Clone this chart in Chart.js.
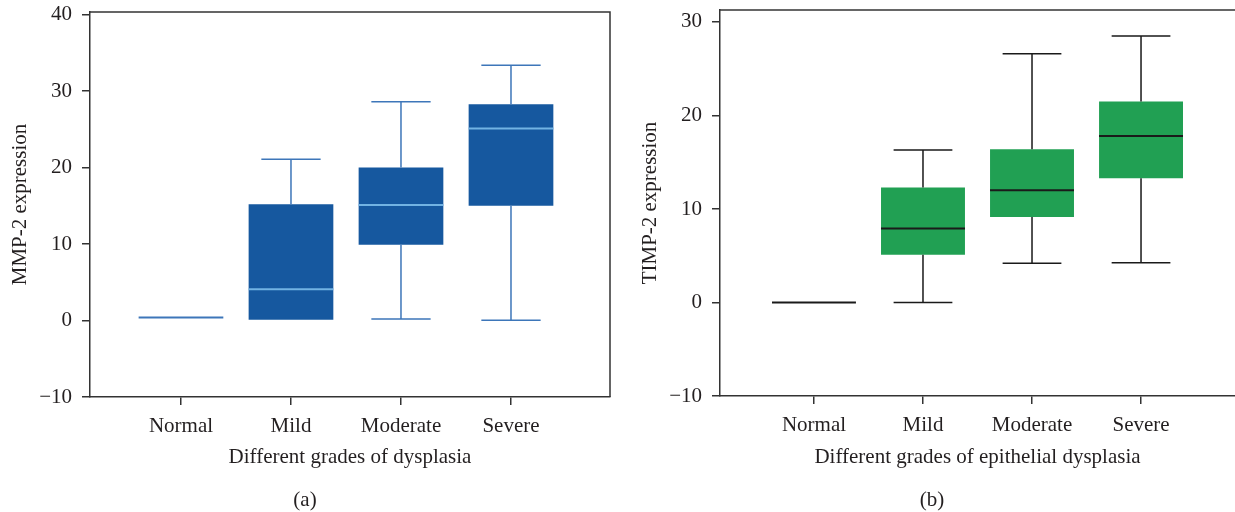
<!DOCTYPE html>
<html>
<head>
<meta charset="utf-8">
<script src="https://cdn.jsdelivr.net/npm/chart.js@4"></script>
<style>
  body { margin: 0; background: #fff; }
  #wrap { position: relative; width: 1235px; height: 512px; overflow: hidden; }
  .panel { position: absolute; top: 0; height: 512px; }
  .cap { position: absolute; top: 499px; transform: translate(-50%, -50%);
         font: 21px "Liberation Serif", serif; color: #231f20; white-space: nowrap; }
</style>
</head>
<body>
<div id="wrap">
  <div class="panel" style="left:0;width:620px"><canvas id="chartA"></canvas></div>
  <div class="panel" style="left:620px;width:615px"><canvas id="chartB"></canvas></div>
  <div class="cap" style="left:305px">(a)</div>
  <div class="cap" style="left:932px">(b)</div>
</div>
<script>
// categories
var grades = ['Normal', 'Mild', 'Moderate', 'Severe'];

// (a) MMP-2 expression: min, q1, median, q3, max
var mmpMin = [0.4, 0, 0.2, 0.05];
var mmpQ1 = [0.4, 0, 9.9, 15.0];
var mmpMed = [0.4, 4.1, 15.1, 25.1];
var mmpQ3 = [0.4, 15.2, 20.0, 28.3];
var mmpMax = [0.4, 21.1, 28.6, 33.4];

// (b) TIMP-2 expression
var timpMin = [0, 0, 4.2, 4.25];
var timpQ1 = [0, 5.1, 9.15, 13.3];
var timpMed = [0, 7.9, 12.0, 17.8];
var timpQ3 = [0, 12.3, 16.4, 21.5];
var timpMax = [0, 16.3, 26.6, 28.5];

var yTicks = [-10, 0, 10, 20, 30, 40];

var font = 'Liberation Serif';
var ink = '#231f20';

// whiskers, caps and median lines drawn on top of the floating bars
var boxWhiskers = {
  id: 'boxWhiskers',
  afterDatasetsDraw: function(chart, args, o) {
    var ctx = chart.ctx, y = chart.scales.y;
    var meta = chart.getDatasetMeta(0);
    ctx.save();
    meta.data.forEach(function(bar, i) {
      var x = bar.x, half = bar.width / 2, cap = bar.width * 0.35;
      var pMin = y.getPixelForValue(o.min[i]), pMax = y.getPixelForValue(o.max[i]);
      var pQ1 = y.getPixelForValue(o.q1[i]), pQ3 = y.getPixelForValue(o.q3[i]);
      var pMed = y.getPixelForValue(o.med[i]);
      ctx.strokeStyle = o.whisker;
      ctx.lineWidth = 1.5;
      ctx.beginPath();
      if (o.max[i] > o.q3[i]) {
        ctx.moveTo(x, pQ3); ctx.lineTo(x, pMax);
        ctx.moveTo(x - cap, pMax); ctx.lineTo(x + cap, pMax);
      }
      if (o.min[i] < o.q1[i]) {
        ctx.moveTo(x, pQ1); ctx.lineTo(x, pMin);
        ctx.moveTo(x - cap, pMin); ctx.lineTo(x + cap, pMin);
      }
      ctx.stroke();
      ctx.strokeStyle = o.q3[i] > o.q1[i] ? o.median : o.whisker;
      ctx.lineWidth = 2;
      ctx.beginPath();
      ctx.moveTo(x - half, pMed); ctx.lineTo(x + half, pMed);
      ctx.stroke();
    });
    ctx.restore();
  }
};

// top (and right) edges of the plot frame
var frame = {
  id: 'frame',
  afterDraw: function(chart, args, o) {
    var a = chart.chartArea, ctx = chart.ctx;
    ctx.save();
    ctx.strokeStyle = '#333';
    ctx.lineWidth = 1.5;
    ctx.beginPath();
    ctx.moveTo(a.left, a.top); ctx.lineTo(a.right, a.top);
    if (o.right) ctx.lineTo(a.right, a.bottom);
    ctx.stroke();
    ctx.restore();
  }
};

function noPad(sc) {
  sc.paddingTop = 0; sc.paddingBottom = 0;
  sc.paddingLeft = 0; sc.paddingRight = 0;
}

function makeChart(id, s) {
  return new Chart(document.getElementById(id), {
    type: 'bar',
    data: {
      datasets: [{
        data: s.q1.map(function(v, i) { return { x: i + 1, y: [s.q1[i], s.q3[i]] }; }),
        backgroundColor: s.fill,
        borderWidth: 0,
        categoryPercentage: 1,
        barPercentage: 0.77
      }]
    },
    options: {
      responsive: true,
      maintainAspectRatio: false,
      animation: false,
      layout: { padding: { left: 0, top: s.top, right: s.right, bottom: 42 } },
      plugins: {
        legend: { display: false },
        tooltip: { enabled: false },
        frame: { right: s.frameRight },
        boxWhiskers: { min: s.min, q1: s.q1, med: s.med, q3: s.q3, max: s.max, whisker: s.whisker, median: s.median }
      },
      scales: {
        x: {
          type: 'linear',
          offset: false,
          min: s.xMin, max: s.xMax,
          afterBuildTicks: function(sc) { sc.ticks = grades.map(function(g, i) { return { value: i + 1 }; }); },
          afterFit: function(sc) { sc.height = s.xh; noPad(sc); },
          ticks: {
            autoSkip: false, maxRotation: 0, padding: 9, color: ink,
            font: { family: font, size: 21 },
            callback: function(v) { return grades[v - 1]; }
          },
          grid: { offset: false, drawOnChartArea: false, tickLength: 8, color: '#333', lineWidth: 1.5 },
          border: { color: '#333', width: 1.5 },
          title: { display: true, text: s.xTitle, color: ink, font: { family: font, size: 21 }, padding: { top: 0, bottom: 0 } }
        },
        y: {
          min: -10, max: s.yMax,
          afterBuildTicks: function(sc) {
            sc.ticks = yTicks.filter(function(t) { return t <= s.yMax; }).map(function(t) { return { value: t }; });
          },
          afterFit: function(sc) { sc.width = s.yw; noPad(sc); },
          ticks: {
            padding: 10, color: ink, font: { family: font, size: 21 },
            callback: function(v) { return String(v).replace('-', '\u2212'); }
          },
          grid: { drawOnChartArea: false, tickLength: 8, color: '#333', lineWidth: 1.5 },
          border: { color: '#333', width: 1.5 },
          title: { display: true, text: s.yTitle, color: ink, font: { family: font, size: 21 }, padding: { top: s.titlePad, bottom: 0 } }
        }
      }
    },
    plugins: [boxWhiskers, frame]
  });
}

makeChart('chartA', {
  min: mmpMin, q1: mmpQ1, med: mmpMed, q3: mmpQ3, max: mmpMax,
  fill: '#16589f', whisker: '#3d76b9', median: '#72b3e3',
  xMin: 0.173, xMax: 4.9, yMax: 40.35,
  top: 12, right: 10, yw: 90, xh: 73, titlePad: 8, frameRight: true,
  xTitle: 'Different grades of dysplasia', yTitle: 'MMP-2 expression'
});

makeChart('chartB', {
  min: timpMin, q1: timpQ1, med: timpMed, q3: timpQ3, max: timpMax,
  fill: '#21a053', whisker: '#1a1a1a', median: '#1a1a1a',
  xMin: 0.138, xMax: 4.862, yMax: 31.28,
  top: 10, right: 0, yw: 100, xh: 74, titlePad: 18, frameRight: false,
  xTitle: 'Different grades of epithelial dysplasia', yTitle: 'TIMP-2 expression'
});
</script>
</body>
</html>
